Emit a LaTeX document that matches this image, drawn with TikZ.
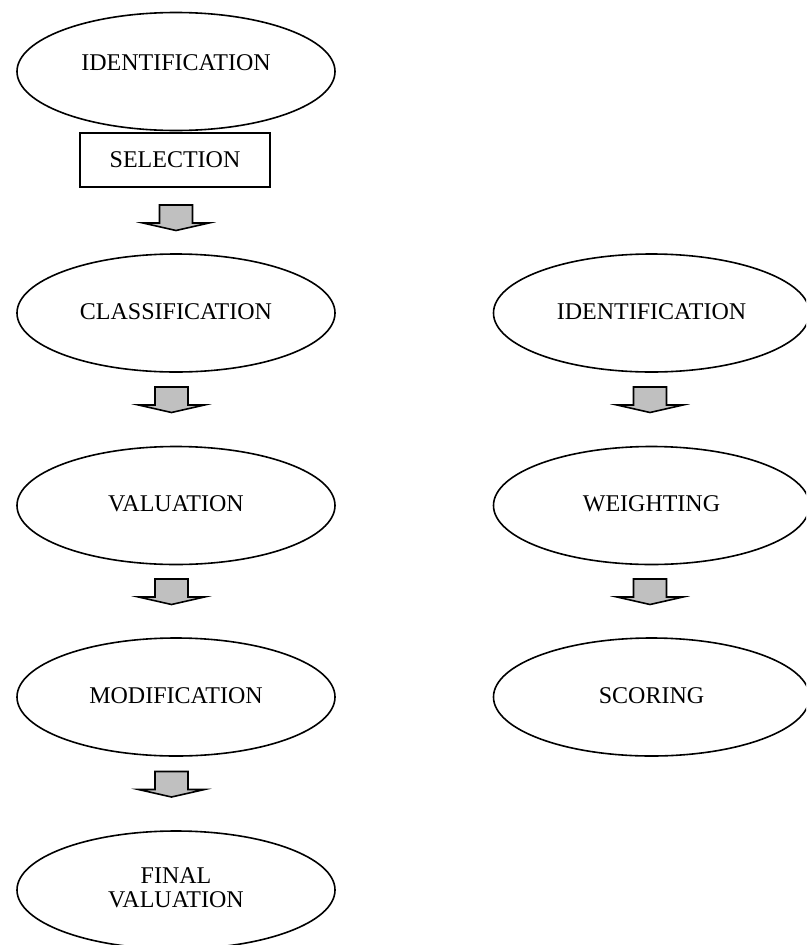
\documentclass[tikz,border=0pt]{standalone}
\usepackage{fontspec}
\setmainfont{Liberation Serif}
\usetikzlibrary{shapes.geometric}
\definecolor{arrowgray}{RGB}{192,192,192}
\tikzset{
  stage/.style={ellipse, draw=black, line width=1.6pt, inner sep=0pt,
    minimum width=318pt, minimum height=118pt,
    font=\fontsize{24}{25}\selectfont, align=center},
  stageR/.style={stage, minimum width=316pt},
  selbox/.style={rectangle, draw=black, line width=1.3pt, inner sep=0pt,
    minimum width=190pt, minimum height=54pt, font=\fontsize{24}{25}\selectfont},
  blockarrow/.pic={
    \draw[line width=1.6pt, fill=arrowgray, line join=miter]
      (-16.5,0) -- (16.5,0) -- (16.5,18) -- (33,18) -- (0,25.5)
      -- (-33,18) -- (-16.5,18) -- cycle;
  }
}
\begin{document}
\begin{tikzpicture}[x=1pt, y=-1pt]
\clip (0,0) rectangle (806,945);
\useasboundingbox (0,0) rectangle (806,945);
\fill[white] (0,0) rectangle (806,945);

% left column
\node[stage] (ident1) at (176,71.5) {\raisebox{18.5pt}{IDENTIFICATION}};
\node[selbox] (sel) at (175,160) {SELECTION};
\node[stage] (class) at (176,313) {\raisebox{3pt}{CLASSIFICATION}};
\node[stage] (val) at (176,505.5) {\raisebox{3.5pt}{VALUATION}};
\node[stage] (mod) at (176,697) {\raisebox{3.5pt}{MODIFICATION}};
\node[stage] (final) at (176,890) {\raisebox{7.5pt}{\begin{tabular}{@{}c@{}}FINAL\\[-1pt]VALUATION\end{tabular}}};

% right column
\node[stageR] (ident2) at (651.5,313) {\raisebox{3pt}{IDENTIFICATION}};
\node[stageR] (weight) at (651.5,505.5) {\raisebox{3.5pt}{WEIGHTING}};
\node[stageR] (score) at (651.5,697) {\raisebox{3.5pt}{SCORING}};

% block arrows between stages
\coordinate (a1) at (176,205);
\coordinate (a2) at (171.5,387);
\coordinate (a3) at (171.5,579);
\coordinate (a4) at (171.5,771.5);
\coordinate (r1) at (650,387);
\coordinate (r2) at (650,579);
\pic at (a1) {blockarrow};
\pic at (a2) {blockarrow};
\pic at (a3) {blockarrow};
\pic at (a4) {blockarrow};
\pic at (r1) {blockarrow};
\pic at (r2) {blockarrow};
\end{tikzpicture}
\end{document}
